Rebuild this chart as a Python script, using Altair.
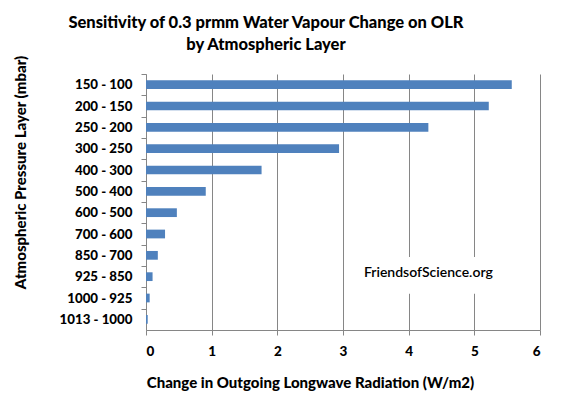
import pandas as pd
import altair as alt

# Pressure layers (mbar), top of atmosphere first
layers = [
    "150 - 100", "200 - 150", "250 - 200", "300 - 250", "400 - 300", "500 - 400",
    "600 - 500", "700 - 600", "850 - 700", "925 - 850", "1000 - 925", "1013 - 1000",
]
# Change in OLR (W/m2)
olr_change = [5.57, 5.22, 4.30, 2.94, 1.76, 0.91, 0.47, 0.29, 0.18, 0.10, 0.056, 0.026]

x_ticks = [0, 1, 2, 3, 4, 5, 6]

title_lines = ["Sensitivity of 0.3 prmm Water Vapour Change on OLR", "by Atmospheric Layer"]

df = pd.DataFrame({"Layer": layers, "OLR": olr_change})
one = pd.DataFrame({"k": [0]})  # single row for annotations

FONT = "Lato"
GREY = "#868686"
STEP = 256 / len(layers)

y_scale = alt.Scale(domain=layers, paddingInner=0.59, paddingOuter=0.295)
x_scale = alt.Scale(domain=[0, 6], nice=False)

bars = alt.Chart(df).mark_bar(color="#4F81BD").encode(
    x=alt.X("OLR:Q", scale=x_scale,
            title="Change in Outgoing Longwave Radiation (W/m2)",
            axis=alt.Axis(values=x_ticks, format="d", grid=True, gridColor=GREY,
                          domainColor=GREY, tickColor=GREY, tickSize=5,
                          labelPadding=9, labelFontSize=13.5, labelFontWeight=900,
                          titleX=164, titleY=52, titleAlign="center",
                          titleBaseline="middle", titleFontSize=15)),
    y=alt.Y("Layer:N", scale=y_scale, sort=layers,
            title="Atmospheric Pressure Layer (mbar)",
            axis=alt.Axis(grid=False, domainColor=GREY, tickColor=GREY, tickSize=5,
                          tickOffset=-STEP / 2, labelOffset=STEP / 2,
                          labelPadding=9, labelFontSize=13.3, labelFontWeight=900,
                          titleAngle=270, titleX=-126, titleY=98, titleAlign="center",
                          titleBaseline="middle", titleFontSize=15)),
)

# white box behind the watermark (hides gridlines, as in the original)
box = alt.Chart(one).mark_rect(fill="white").encode(
    x=alt.XDatum(3.33, scale=x_scale),
    x2=alt.X2Datum(5.42),
    y=alt.YDatum("850 - 700", scale=y_scale, bandPosition=0.69),
    y2=alt.Y2Datum("1000 - 925", bandPosition=0),
)

note = alt.Chart(one).mark_text(
    text="FriendsofScience.org", font=FONT, fontSize=14, fontWeight=600,
    color="black", dy=-4
).encode(
    x=alt.XDatum(4.3, scale=x_scale),
    y=alt.YDatum("925 - 850", scale=y_scale),
)

# chart title, drawn as two centred text lines above the plot
title_top = alt.Chart(one).mark_text(
    text=title_lines[0], font=FONT, fontSize=16.5, fontWeight=900, color="black",
    align="center", baseline="middle",
).encode(x=alt.value(120), y=alt.value(-51))

title_bottom = alt.Chart(one).mark_text(
    text=title_lines[1], font=FONT, fontSize=16.5, fontWeight=900, color="black",
    align="center", baseline="middle",
).encode(x=alt.value(120), y=alt.value(-29))

chart = (bars + box + note + title_top + title_bottom).properties(
    width=394,
    height=256,
    autosize=alt.AutoSizeParams(type="none"),
    padding={"left": 138, "top": 66, "right": 15, "bottom": 70},
).configure_view(
    stroke=None
).configure_axis(
    labelFont=FONT, titleFont=FONT, labelColor="black", titleColor="black",
    titleFontWeight=900, domainWidth=1, tickWidth=1, gridWidth=1,
)

chart.save("out.html", embed_options={"renderer": "svg", "actions": False})
